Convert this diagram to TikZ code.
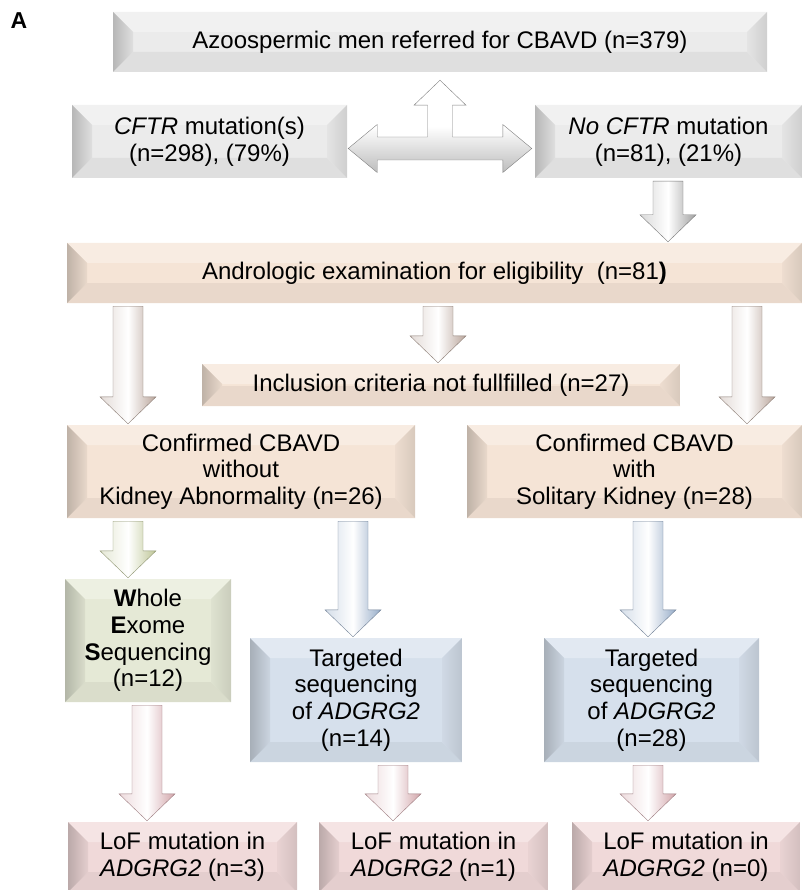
\documentclass[tikz,border=0pt]{standalone}
\usepackage{fontspec}
\setmainfont{Liberation Sans}
\usetikzlibrary{calc}

\definecolor{boxgray}{RGB}{235,235,235}
\definecolor{boxbeige}{RGB}{245,228,214}
\definecolor{boxgreen}{RGB}{229,233,214}
\definecolor{boxblue}{RGB}{214,224,236}
\definecolor{boxpink}{RGB}{240,217,217}
\definecolor{arrgray}{RGB}{160,160,160}
\definecolor{arrbeige}{RGB}{185,165,155}
\definecolor{arrgreen}{RGB}{190,198,150}
\definecolor{arrblue}{RGB}{150,172,200}
\definecolor{arrpink}{RGB}{210,165,170}

\newcommand{\boxfont}{\fontsize{24}{26.7}\selectfont}

\tikzset{
  panel/.style={rectangle, fill=#1, inner sep=0pt, align=center, font=\boxfont,
    path picture={
      \coordinate (pnw) at (path picture bounding box.north west);
      \coordinate (pne) at (path picture bounding box.north east);
      \coordinate (psw) at (path picture bounding box.south west);
      \coordinate (pse) at (path picture bounding box.south east);
      \fill[#1!70!white] (pnw) -- (pne) -- ([shift={(-20pt,-20pt)}]pne) -- ([shift={(20pt,-20pt)}]pnw) -- cycle;
      \fill[#1!95!black] (psw) -- (pse) -- ([shift={(-20pt,20pt)}]pse) -- ([shift={(20pt,20pt)}]psw) -- cycle;
      \shade[left color=#1!78!black, right color=#1!95!black] (pnw) -- ([shift={(20pt,-20pt)}]pnw) -- ([shift={(20pt,20pt)}]psw) -- (psw) -- cycle;
      \shade[left color=#1!97!black, right color=#1!88!black] (pne) -- ([shift={(-20pt,-20pt)}]pne) -- ([shift={(-20pt,20pt)}]pse) -- (pse) -- cycle;
    }}
}

% block arrow: [colour]{from}{to}
\newcommand{\blockarr}[3][arrbeige]{%
  \shade[left color=#1!40!white, right color=#1, middle color=white,
         draw=#1!75!black, line width=.4pt]
    let \p1=(#2), \p2=(#3) in
    (\x1-15pt,\y1-3pt) -- (\x1+15pt,\y1-3pt) -- (\x1+15pt,\y2+28pt)
    -- (\x1+28pt,\y2+28pt) -- (\x1,\y2+1pt) -- (\x1-28pt,\y2+28pt)
    -- (\x1-15pt,\y2+28pt) -- cycle;}

\begin{document}
\begin{tikzpicture}[x=1pt,y=-1pt]
  \useasboundingbox (0,0) rectangle (802,890);
  \tikzstyle{LabelStyle}=[font=\fontsize{23}{23}\selectfont\bfseries, inner sep=0pt]
  \node[LabelStyle] (lab) at (19,21) {A};
  % screening
  \node[panel=boxgray, minimum width=654pt, minimum height=60pt] (top) at (440,42)
    {Azoospermic men referred for CBAVD (n=379)};
  \node[panel=boxgray, minimum width=275pt, minimum height=73pt] (cftr) at (209.5,141.5)
    {\textit{CFTR} mutation(s)\\(n=298), (79\%)};
  \node[panel=boxgray, minimum width=267pt, minimum height=73pt] (nocftr) at (668.5,141.5)
    {\textit{No CFTR} mutation\\(n=81), (21\%)};
  % examination
  \node[panel=boxbeige, minimum width=735pt, minimum height=60pt] (andro) at (434.5,273)
    {Andrologic examination for eligibility\ \ (n=81\textbf{)}};
  \node[panel=boxbeige, minimum width=478pt, minimum height=42pt] (incl) at (441,385)
    {Inclusion criteria not fullfilled (n=27)};
  \node[panel=boxbeige, minimum width=348pt, minimum height=93pt] (conf1) at (241,471.5)
    {Confirmed CBAVD\\without\\Kidney Abnormality (n=26)};
  \node[panel=boxbeige, minimum width=335pt, minimum height=93pt] (conf2) at (634.5,471.5)
    {Confirmed CBAVD\\with\\Solitary Kidney (n=28)};
  % sequencing
  \node[panel=boxgreen, minimum width=166pt, minimum height=123pt] (wes) at (148,640.5)
    {\textbf{W}hole\\\textbf{E}xome\\\textbf{S}equencing\\(n=12)};
  \node[panel=boxblue, minimum width=212pt, minimum height=124pt] (targ1) at (356,700)
    {Targeted\\sequencing\\of \textit{ADGRG2}\\(n=14)};
  \node[panel=boxblue, minimum width=215pt, minimum height=124pt] (targ2) at (651.5,700)
    {Targeted\\sequencing\\of \textit{ADGRG2}\\(n=28)};
  % results
  \node[panel=boxpink, minimum width=229pt, minimum height=70pt] (lof1) at (182.5,857)
    {LoF mutation in\\\textit{ADGRG2} (n=3)};
  \node[panel=boxpink, minimum width=229pt, minimum height=70pt] (lof2) at (433.5,857)
    {LoF mutation in\\\textit{ADGRG2} (n=1)};
  \node[panel=boxpink, minimum width=228pt, minimum height=70pt] (lof3) at (686,857)
    {LoF mutation in\\\textit{ADGRG2} (n=0)};

  \shade[top color=white, bottom color=arrgray!70, middle color=white, draw=arrgray!80!black, line width=.4pt]
    let \p1=(cftr.east), \p2=(nocftr.west), \p3=(top.south), \p4=(\x3,\y1-7pt) in
    (\x1+1pt,\y4) -- (\x1+30pt,\y4+24pt) -- (\x1+30pt,\y4+11.5pt)
    -- (\x4-12.5pt,\y4+11.5pt) -- (\x4-12.5pt,\y3-33pt) -- (\x4-26pt,\y3-33pt)
    -- (\x4,\y3-8pt) -- (\x4+26pt,\y3-33pt) -- (\x4+12.5pt,\y3-33pt)
    -- (\x4+12.5pt,\y4+11.5pt) -- (\x2-32pt,\y4+11.5pt) -- (\x2-32pt,\y4+24pt)
    -- (\x2-3pt,\y4) -- (\x2-32pt,\y4-24pt) -- (\x2-32pt,\y4-11.5pt)
    -- (\x1+30pt,\y4-11.5pt) -- (\x1+30pt,\y4-24pt) -- cycle;
  \blockarr[arrgray]{nocftr.south -| 668,0}{andro.north -| 668,0}
  \blockarr{andro.south -| 128,0}{conf1.north -| 128,0}
  \blockarr{andro.south -| 438,0}{incl.north -| 438,0}
  \blockarr{andro.south -| 747,0}{conf2.north -| 747,0}
  \blockarr[arrgreen]{conf1.south -| 128,0}{wes.north -| 128,0}
  \blockarr[arrblue]{conf1.south -| 353,0}{targ1.north -| 353,0}
  \blockarr[arrblue]{conf2.south -| 648,0}{targ2.north -| 648,0}
  \blockarr[arrpink]{wes.south -| 147,0}{lof1.north -| 147,0}
  \blockarr[arrpink]{targ1.south -| 393,0}{lof2.north -| 393,0}
  \blockarr[arrpink]{targ2.south -| 648,0}{lof3.north -| 648,0}
%  \blockarr{incl.south}{conf1.north}
\end{tikzpicture}
\end{document}
